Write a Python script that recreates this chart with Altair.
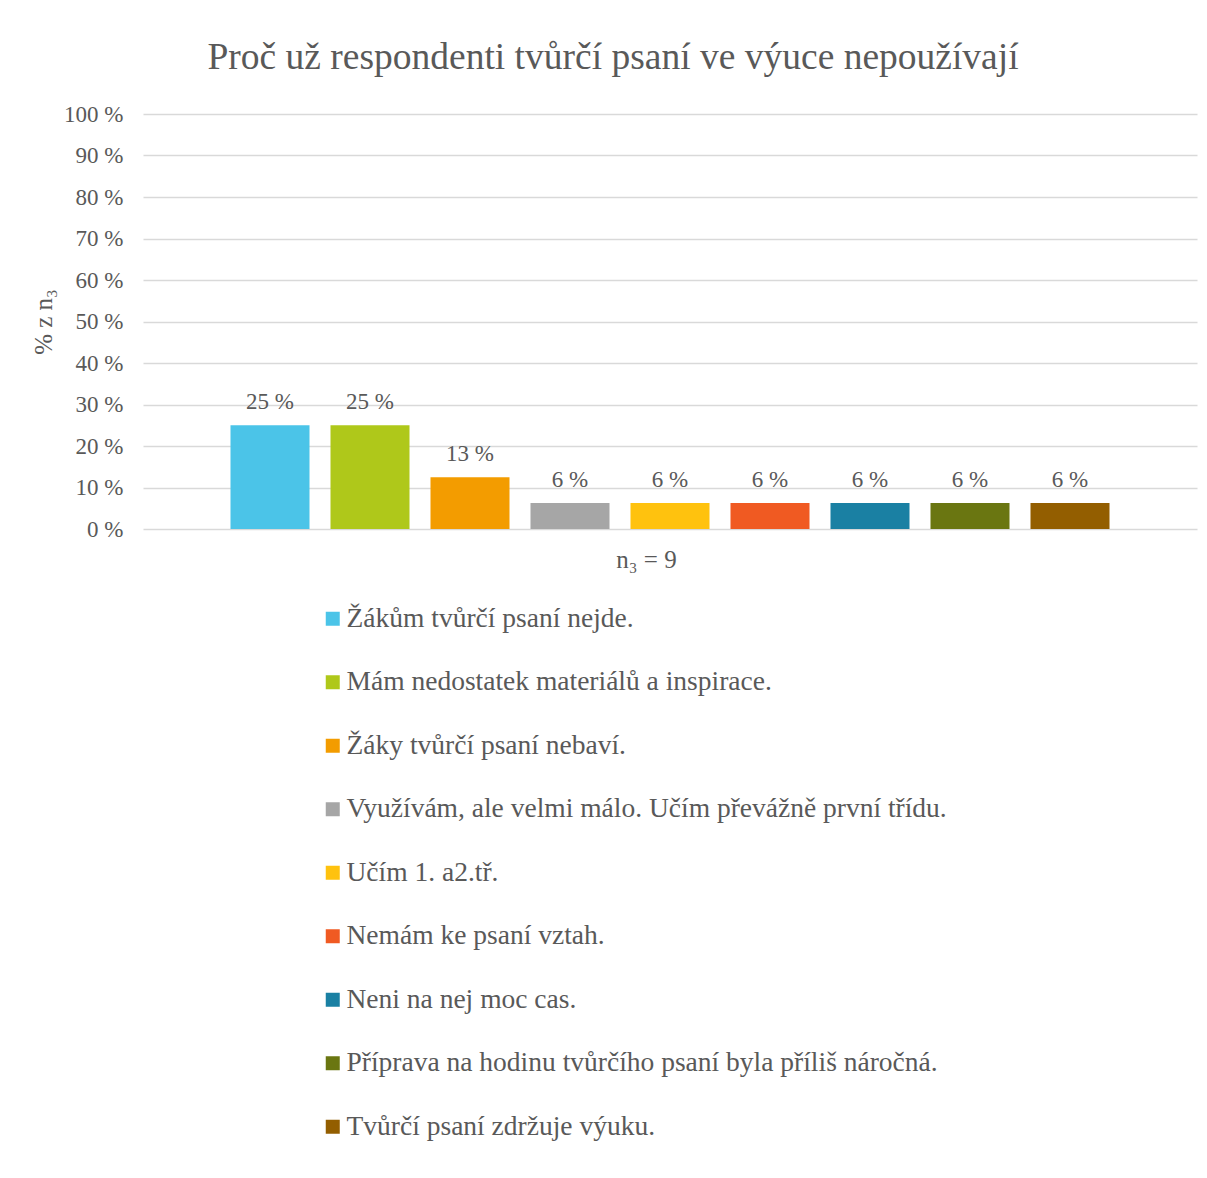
import altair as alt
import pandas as pd

categories = [
    "Žákům tvůrčí psaní nejde.",
    "Mám nedostatek materiálů a inspirace.",
    "Žáky tvůrčí psaní nebaví.",
    "Využívám, ale velmi málo. Učím převážně první třídu.",
    "Učím 1. a2.tř.",
    "Nemám ke psaní vztah.",
    "Neni na nej moc cas.",
    "Příprava na hodinu tvůrčího psaní byla příliš náročná.",
    "Tvůrčí psaní zdržuje výuku.",
]
values = [25, 25, 12.5, 6.25, 6.25, 6.25, 6.25, 6.25, 6.25]
labels = ["25 %", "25 %", "13 %", "6 %", "6 %", "6 %", "6 %", "6 %", "6 %"]
colors = ["#4BC4E8", "#AFC81A", "#F39C00", "#A6A6A6", "#FFC20E",
          "#F05A22", "#1A80A3", "#6A7611", "#935E00"]
y_ticks = [0, 10, 20, 30, 40, 50, 60, 70, 80, 90, 100]

df = pd.DataFrame({"kategorie": categories, "hodnota": values, "popisek": labels})

FONT = "'Liberation Serif', 'Times New Roman', 'DejaVu Serif', serif"
GREY = "#595959"

x_enc = alt.X(
    "kategorie:N",
    sort=categories,
    scale=alt.Scale(paddingInner=0.21, paddingOuter=0.875),
    axis=alt.Axis(labels=False, ticks=False, domain=False, title="n₃ = 9",
                  titleFont=FONT, titleFontSize=25, titleFontWeight="normal",
                  titleColor=GREY, titlePadding=18, titleX=503, titleAlign="center"),
)
y_enc = alt.Y(
    "hodnota:Q",
    scale=alt.Scale(domain=[0, 100], nice=False),
    axis=alt.Axis(values=y_ticks, labelExpr="datum.value + ' %'", ticks=False,
                  domain=False, grid=True, gridColor="#D9D9D9", gridWidth=1.5,
                  labelFont=FONT, labelFontSize=23, labelColor=GREY, labelPadding=20,
                  title="% z n₃", titleFont=FONT, titleFontSize=25,
                  titleFontWeight="normal", titleColor=GREY, titlePadding=7),
)

bars = alt.Chart(df).mark_bar().encode(
    x=x_enc,
    y=y_enc,
    color=alt.Color(
        "kategorie:N",
        sort=categories,
        scale=alt.Scale(domain=categories, range=colors),
        legend=alt.Legend(
            title=None, orient="none", legendX=176, legendY=491,
            direction="vertical", symbolType="square", symbolSize=196,
            symbolStrokeWidth=0, labelFont=FONT, labelFontSize=27.5,
            labelColor=GREY, labelOffset=0, rowPadding=34.5, labelLimit=900,
        ),
    ),
)

text = alt.Chart(df).mark_text(
    font=FONT, fontSize=23, color=GREY, baseline="alphabetic", dy=-16
).encode(
    x=alt.X("kategorie:N", sort=categories),
    y=alt.Y("hodnota:Q"),
    text="popisek:N",
)

chart = (bars + text).properties(
    width=1054,
    height=415,
    title=alt.TitleParams(
        "Proč už respondenti tvůrčí psaní ve výuce nepoužívají",
        font=FONT, fontSize=37.5, fontWeight="normal", color=GREY,
        anchor="middle", offset=27, dx=-57,
    ),
    autosize=alt.AutoSizeParams(type="none"),
    padding={"left": 135, "top": 106, "right": 2, "bottom": 640},
    background="white",
).configure_view(strokeWidth=0)

chart.save("out.html", embed_options={"renderer": "svg", "actions": False})
